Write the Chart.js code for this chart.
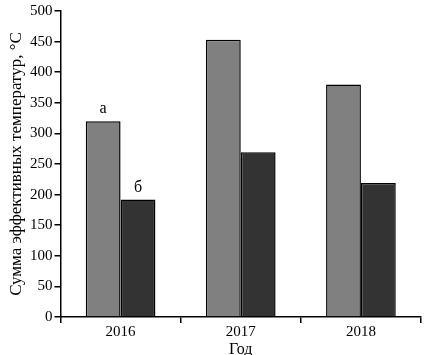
<!DOCTYPE html>
<html>
<head>
<meta charset="utf-8">
<script src="https://cdn.jsdelivr.net/npm/chart.js@4"></script>
<style>
  html, body { margin: 0; padding: 0; background: #fff; }
  #wrap { width: 425px; height: 355px; }
</style>
</head>
<body>
<div id="wrap"><canvas id="chart"></canvas></div>
<script>
const years = ['2016', '2017', '2018'];
const seriesA = [320, 453, 380];
const seriesB = [192, 269, 219];
const barLabels = ['а', 'б'];

// letters above the 2016 bars
const letterPlugin = {
    id: 'letters',
    afterDatasetsDraw(chart) {
        const ctx = chart.ctx;
        ctx.save();
        ctx.fillStyle = '#000';
        ctx.font = '16px "Liberation Serif"';
        ctx.textAlign = 'center';
        ctx.textBaseline = 'bottom';
        barLabels.forEach((txt, i) => {
            const bar = chart.getDatasetMeta(i).data[0];
            ctx.fillText(txt, bar.x, bar.y - 4);
        });
        ctx.restore();
    }
};

new Chart(document.getElementById('chart'), {
    type: 'bar',
    data: {
        labels: years,
        datasets: [{
            label: 'а',
            data: seriesA,
            backgroundColor: '#808080',
            borderColor: '#000',
            borderWidth: 1.5
        }, {
            label: 'б',
            data: seriesB,
            backgroundColor: '#333333',
            borderColor: '#000',
            borderWidth: 1.5
        }]
    },
    options: {
        responsive: true,
        maintainAspectRatio: false,
        animation: false,
        datasets: { bar: { categoryPercentage: 0.58, barPercentage: 1.0 } },
        layout: { padding: { top: 8, right: 4, left: 8, bottom: -3 } },
        plugins: {
            legend: { display: false },
            tooltip: { enabled: false }
        },
        scales: {
            x: {
                grid: { drawOnChartArea: false, drawTicks: true, tickLength: 6, color: '#000', lineWidth: 1.5, offset: true },
                border: { color: '#000', width: 1.5 },
                ticks: { color: '#000', font: { family: '"Liberation Serif"', size: 15, lineHeight: 1.0 }, padding: 2 },
                title: { display: true, text: 'Год', color: '#000', font: { family: '"Liberation Serif"', size: 16, lineHeight: 1.0 }, padding: { top: 0, bottom: 0 } }
            },
            y: {
                min: 0,
                max: 500,
                ticks: { stepSize: 50, color: '#000', font: { family: '"Liberation Serif"', size: 15 }, padding: 2 },
                grid: { drawOnChartArea: false, drawTicks: true, tickLength: 6, color: '#000', lineWidth: 1.5 },
                border: { color: '#000', width: 1.5 },
                title: { display: true, text: 'Сумма эффективных температур, °С', color: '#000', font: { family: '"Liberation Serif"', size: 17, lineHeight: 1.0 }, padding: { top: 0, bottom: 3 } }
            }
        }
    },
    plugins: [letterPlugin]
});
</script>
</body>
</html>
